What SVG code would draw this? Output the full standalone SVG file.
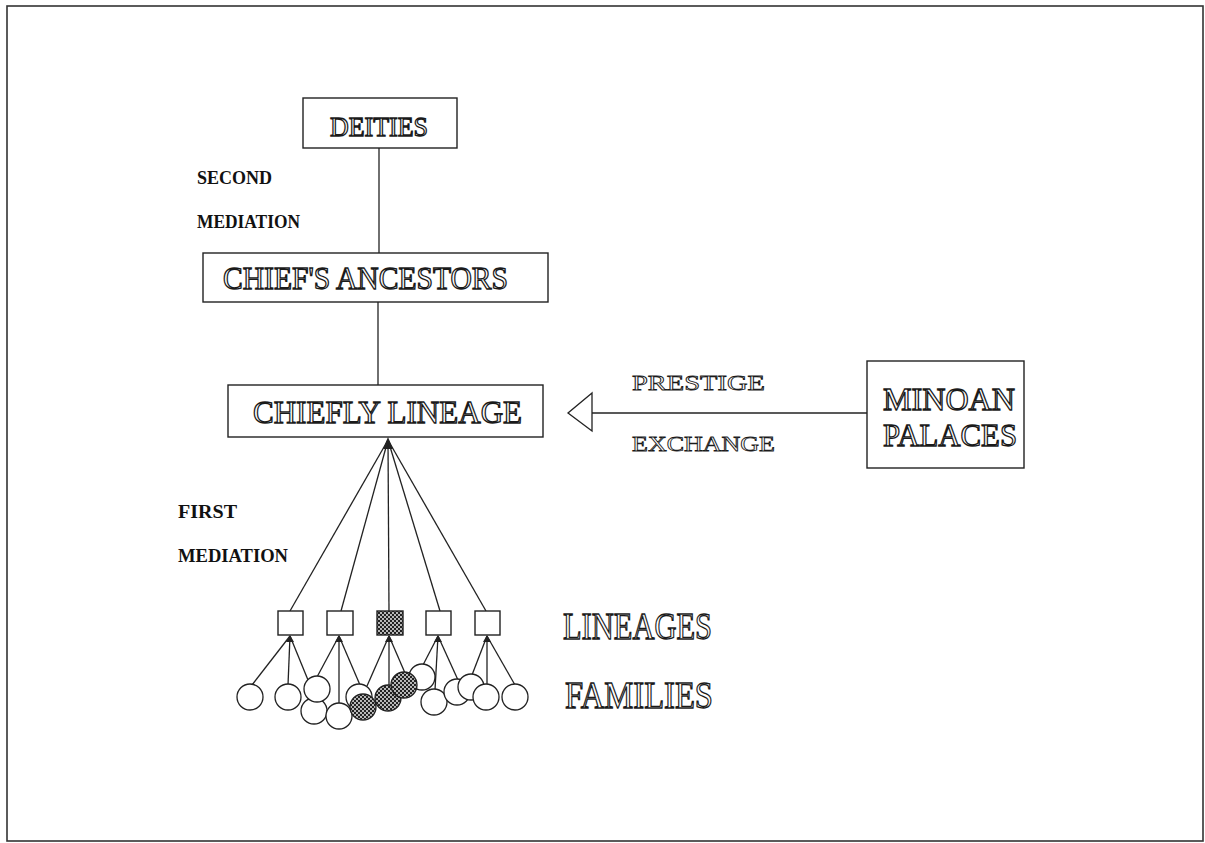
<svg xmlns="http://www.w3.org/2000/svg" width="1205" height="843" viewBox="0 0 1205 843">
<style>
.box{fill:#fff;stroke:#222;stroke-width:1.4}
.ln{stroke:#222;stroke-width:1.3;fill:none}
.big{font-family:"Liberation Serif",serif;fill:#fff;stroke:#1a1a1a;stroke-width:1.3}
.sm{font-family:"Liberation Serif",serif;fill:#fff;stroke:#1a1a1a;stroke-width:0.8}
.lbl{font-family:"Liberation Serif",serif;font-weight:bold;fill:#111}
.c{fill:#fff;stroke:#222;stroke-width:1.3}
.h{fill:url(#hatch);stroke:#222;stroke-width:1.3}
</style>
<defs>
<pattern id="hatch" width="4" height="4" patternUnits="userSpaceOnUse">
<rect width="4" height="4" fill="#222"/>
<circle cx="1" cy="1" r="0.9" fill="#fff"/>
<circle cx="3" cy="3" r="0.9" fill="#fff"/>
</pattern>
</defs>
<rect x="7" y="6" width="1196" height="835" fill="#fff" stroke="#333" stroke-width="1.6"/>

<g id="connectors">
<line class="ln" x1="379" y1="148" x2="379" y2="253"/>
<line class="ln" x1="378" y1="302" x2="378" y2="385"/>
<line class="ln" x1="592" y1="413" x2="867" y2="413"/>
<path d="M592,393 L568,413 L592,431 Z" fill="#fff" stroke="#222" stroke-width="1.3"/>
<path d="M383,449 L388,437 L393,449 Z" fill="#222"/>
<g class="ln">
<line x1="388" y1="440" x2="290" y2="611"/>
<line x1="388" y1="440" x2="341" y2="611"/>
<line x1="388" y1="440" x2="389" y2="611"/>
<line x1="388" y1="440" x2="440" y2="611"/>
<line x1="388" y1="440" x2="486" y2="611"/>
<line x1="290" y1="636" x2="252" y2="685"/>
<line x1="290" y1="636" x2="288" y2="685"/>
<line x1="290" y1="636" x2="308" y2="680"/>
<line x1="339" y1="636" x2="317" y2="677"/>
<line x1="339" y1="636" x2="339" y2="704"/>
<line x1="339" y1="636" x2="360" y2="685"/>
<line x1="389" y1="636" x2="367" y2="686"/>
<line x1="389" y1="636" x2="389" y2="686"/>
<line x1="389" y1="636" x2="405" y2="673"/>
<line x1="438" y1="636" x2="423" y2="665"/>
<line x1="438" y1="636" x2="435" y2="690"/>
<line x1="438" y1="636" x2="458" y2="680"/>
<line x1="487" y1="636" x2="472" y2="675"/>
<line x1="487" y1="636" x2="487" y2="684"/>
<line x1="487" y1="636" x2="515" y2="685"/>
</g>
<path d="M286,642 L290,635 L294,642 Z M335,642 L339,635 L343,642 Z M385,642 L389,635 L393,642 Z M434,642 L438,635 L442,642 Z M483,642 L487,635 L491,642 Z" fill="#222"/>
</g>

<g id="deities">
<rect class="box" x="303" y="98" width="154" height="50"/>
<text class="big" x="330" y="136" font-size="27" textLength="98" lengthAdjust="spacingAndGlyphs">DEITIES</text>
</g>

<g id="second-mediation">
<text class="lbl" x="197" y="184" font-size="18" textLength="75" lengthAdjust="spacingAndGlyphs">SECOND</text>
<text class="lbl" x="197" y="228" font-size="18" textLength="103" lengthAdjust="spacingAndGlyphs">MEDIATION</text>
</g>

<g id="chiefs-ancestors">
<rect class="box" x="203" y="253" width="345" height="49"/>
<text class="big" x="223" y="289" font-size="31" textLength="285" lengthAdjust="spacingAndGlyphs">CHIEF'S ANCESTORS</text>
</g>

<g id="chiefly-lineage">
<rect class="box" x="228" y="385" width="315" height="52"/>
<text class="big" x="253" y="423" font-size="32" textLength="269" lengthAdjust="spacingAndGlyphs">CHIEFLY LINEAGE</text>
</g>

<g id="prestige-exchange">
<text class="sm" x="632" y="390" font-size="21" textLength="133" lengthAdjust="spacingAndGlyphs">PRESTIGE</text>
<text class="sm" x="632" y="451" font-size="21" textLength="143" lengthAdjust="spacingAndGlyphs">EXCHANGE</text>
</g>

<g id="minoan-palaces">
<rect class="box" x="867" y="361" width="157" height="107"/>
<text class="big" x="883" y="410" font-size="32" textLength="132" lengthAdjust="spacingAndGlyphs">MINOAN</text>
<text class="big" x="883" y="446" font-size="32" textLength="134" lengthAdjust="spacingAndGlyphs">PALACES</text>
</g>

<g id="first-mediation">
<text class="lbl" x="178" y="518" font-size="18" textLength="59" lengthAdjust="spacingAndGlyphs">FIRST</text>
<text class="lbl" x="178" y="562" font-size="18" textLength="110" lengthAdjust="spacingAndGlyphs">MEDIATION</text>
</g>

<g id="lineages">
<rect class="box" x="278" y="611" width="25" height="24"/>
<rect class="box" x="327" y="611" width="26" height="24"/>
<rect x="377" y="611" width="26" height="24" fill="url(#hatch)" stroke="#222" stroke-width="1.4"/>
<rect class="box" x="426" y="611" width="25" height="24"/>
<rect class="box" x="475" y="611" width="25" height="24"/>
<text class="big" x="563" y="639" font-size="37" textLength="149" lengthAdjust="spacingAndGlyphs">LINEAGES</text>
</g>

<g id="families">
<circle class="c" cx="250" cy="697" r="13"/>
<circle class="c" cx="288" cy="697" r="13"/>
<circle class="c" cx="314" cy="711" r="13"/>
<circle class="c" cx="317" cy="689" r="13"/>
<circle class="c" cx="339" cy="716" r="13"/>
<circle class="c" cx="359" cy="697" r="13"/>
<circle class="h" cx="363" cy="707" r="13"/>
<circle class="h" cx="388" cy="698" r="13"/>
<circle class="c" cx="422" cy="677" r="13"/>
<circle class="h" cx="404" cy="685" r="13"/>
<circle class="c" cx="434" cy="702" r="13"/>
<circle class="c" cx="457" cy="692" r="13"/>
<circle class="c" cx="471" cy="687" r="13"/>
<circle class="c" cx="486" cy="697" r="13"/>
<circle class="c" cx="515" cy="697" r="13"/>
<text class="big" x="565" y="708" font-size="37" textLength="148" lengthAdjust="spacingAndGlyphs">FAMILIES</text>
</g>
</svg>
